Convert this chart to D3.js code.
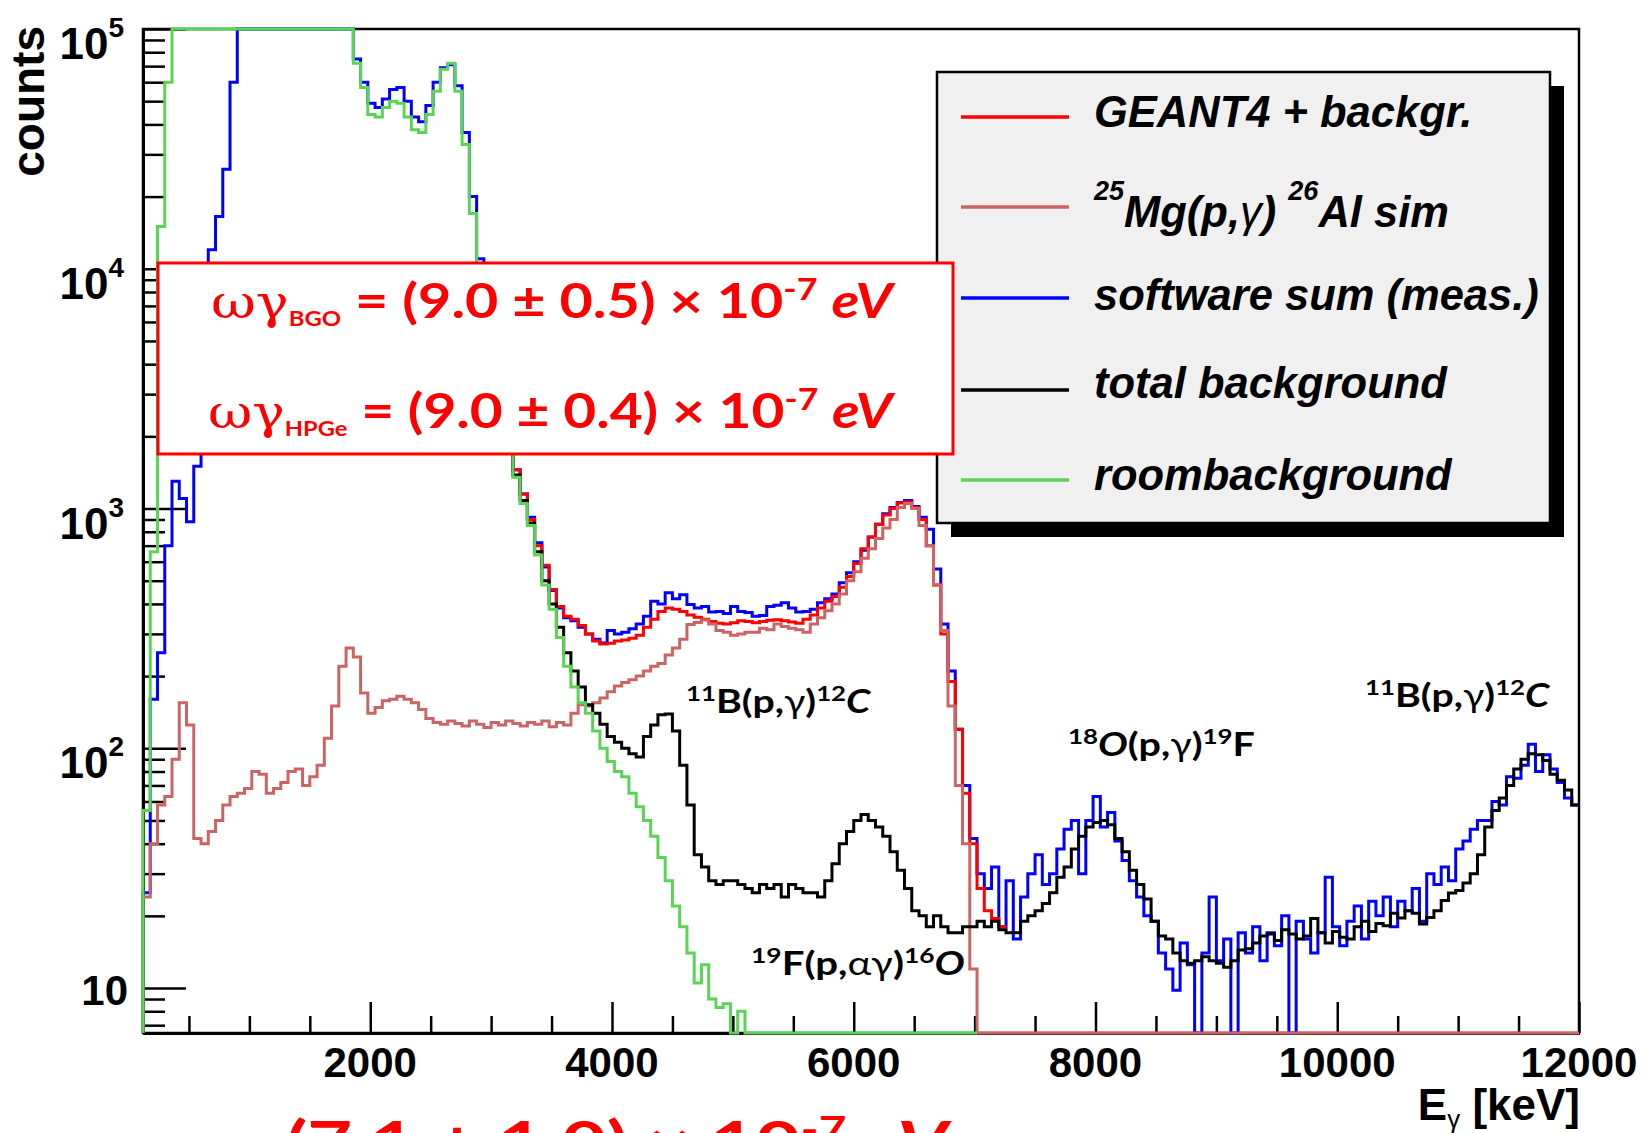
<!DOCTYPE html>
<html><head><meta charset="utf-8">
<script src="https://cdn.jsdelivr.net/npm/d3@7/dist/d3.min.js"></script>
<style>body{margin:0;background:#fff}svg{display:block}text{white-space:pre}</style>
</head><body>
<svg id="chart" width="1646" height="1133"></svg>
<script>
// ---------------- data (histogram bins: start 120 keV, width 60 keV) ----------------
const BIN_START = 120;
const BIN_WIDTH = 60;

const xMajorTicks = [2000, 4000, 6000, 8000, 10000, 12000];
const xTickLabels = ["2000", "4000", "6000", "8000", "10000", "12000"];
const yMajorTicks = [10, 100, 1000, 10000, 100000];
const yTickExponents = ["", "2", "3", "4", "5"];

const legendLabels = ["GEANT4 + backgr.", "25Mg(p,γ)26Al sim", "software sum (meas.)", "total background", "roombackground"];

// software sum (measured), first bin 0
const blueStartBin = 0;
const blueCounts = [25,160,250,700,1300,1100,880,1500,4500,12000,16500,26000,60000,
150000,150000,150000,150000,150000,150000,150000,150000,150000,150000,150000,150000,150000,150000,150000,150000,
75000,60000,49000,47000,51000,56000,57000,50000,43000,41000,48000,60000,69000,71000,58000,37000,20000,11000,
7000,4600,3000,1900,1450,1150,920,720,570,455,385,350,340,320,300,285,275,310,300,305,315,330,355,410,
400,445,420,437,398,385,390,370,372,365,390,372,368,355,358,390,395,405,385,370,372,380,405,420,
440,490,540,600,670,760,860,950,1010,1060,1080,1020,920,820,560,330,210,120,70,42,
30,26,32,18,28,16,24,30,36,27,30,38,46,50,30,50,63,47,54,41,34,28,24,20,19,14,12,9.8,15.4,12.5,
0,14,24,13,16,0,17,14,18,13,17,15,20,0,19,16,14,17,29,18,15,19,22,16,23,20,24,18,23,21,26,19,
30,27,32,28,38,41,46,50,50,60,58,76,75,85,104,80,94,82,72,62,58];

// GEANT4 + background, first bin 47
const redStartBin = 47;
const redCounts = [7000,4600,3000,1900,1450,1150,900,700,580,460,390,355,345,325,300,280,272,274,280,283,288,296,
320,345,372,385,380,372,360,352,345,338,332,330,334,340,338,334,338,342,344,340,336,332,345,360,385,410,
430,470,520,590,680,760,860,940,1000,1055,1065,1010,900,700,480,300,190,120,65,40,26,21,19.5,18];

// 25Mg(p,g)26Al simulation, first bin 0
const pinkStartBin = 0;
const pinkCounts = [24,40,58,63,90,155,125,42,40,45,50,58,63,65,68,80,78,65,68,72,80,82,70,76,85,110,150,220,262,
240,170,140,148,158,160,165,160,155,145,133,128,126,130,127,124,130,126,122,128,125,130,127,124,128,126,130,123,128,
125,140,152,150,155,162,172,182,188,193,200,210,220,226,245,262,285,328,335,343,330,310,305,296,300,305,305,317,
312,330,322,317,312,305,330,350,375,400,440,500,545,620,680,750,830,900,1010,1050,1000,850,700,480,310,150,70,40,12,
0,0,0,0,0,0,0,0,0,0,0,0,0,0,0,0,0,0,0,0,0,0,0,0,0,0,0,0,0,0,0,0,0,0,0,0,0,0,0,0,0,0,
0,0,0,0,0,0,0,0,0,0,0,0,0,0,0,0,0,0,0,0,0,0,0,0,0,0,0,0,0,0,0,0,0,0,0,0,0,0,0,0,0];

// total background, first bin 47
const blackStartBin = 47;
const blackCounts = [6500,4300,2800,1850,1380,1080,870,660,500,400,320,250,210,180,152,140,126,112,106,100,95,92,
112,125,138,139,118,85,58,36,32,28,27,28,28,27,26,25,27,26,27,24,27,26,25,25,24,28,33,40,45,50,53,50,47,43,37,31,
26,21,20,18,20,18,17,17,18,18,19,18,19,17.5,17,17,19,20,21,22.5,25,29,32,38,43,47,49,50,48,42,37,31,27,23.5,19,
16.5,16,14,13,12.7,13,13.5,13,12.7,12.2,13,14.4,14.6,15.4,16.5,16.8,15.8,17.5,16.8,16,16.5,19.5,17,15.4,17.2,16.3,
16,18,19,17.2,18.6,18.2,20.5,19.6,21,20.5,18.5,19.7,21,23.2,24.9,25.5,27.4,30,36,47,55,62,70,82,90,95,94,89,78,73.6,67,58];

// room background, first bin 0
const greenStartBin = 0;
const greenCounts = [55,660,15000,60000,
150000,150000,150000,150000,150000,150000,150000,150000,150000,150000,150000,150000,150000,150000,150000,150000,
150000,150000,150000,150000,150000,150000,150000,150000,150000,
72000,57000,44000,43000,47000,50000,49000,43000,38000,37000,44000,55000,68000,72000,55000,33000,17000,10000,
6500,4200,2700,1800,1350,1050,850,640,480,380,290,220,180,155,140,118,100,88,80,76,65,57,50,43,35,28,22,18,14,
10.5,12.5,9,8.3,8.6,0,8,
0,0,0,0,0,0,0,0,0,0,0,0,0,0,0,0,0,0,0,0,0,0,0,0,0,0,0,0,0,0,0,0];

// ---------------- layout ----------------
const svg = d3.select("#chart");
const plot = {left: 143, right: 1579, top: 29, bottom: 1033};
const x = d3.scaleLinear().domain([BIN_START, 12000]).range([plot.left, plot.right]);
const yMin = Math.pow(10, 0.8125), yMax = 1e5;
const y = d3.scaleLog().domain([yMin, yMax]).range([plot.bottom, plot.top]);
const yc = v => (v <= yMin ? plot.bottom : v >= yMax ? plot.top : y(v));

const C = {red: "#ff0000", pink: "#cc6464", blue: "#0000ff", black: "#000000", green: "#59d454"};

svg.append("rect").attr("width", 1646).attr("height", 1133).attr("fill", "#fff");

// frame
svg.append("rect").attr("x", plot.left).attr("y", plot.top)
  .attr("width", plot.right - plot.left).attr("height", plot.bottom - plot.top)
  .attr("fill", "none").attr("stroke", "#000").attr("stroke-width", 2.5);

// axes
const xMinor = d3.range(500, 12000, 500).filter(v => v % 2000 !== 0);
const yMinor = [];
[1, 10, 100, 1000, 10000].forEach(d => { for (let k = 2; k <= 9; k++) { const v = d * k; if (v >= yMin && v < yMax) yMinor.push(v); } });

function styleAxis(g) {
  g.selectAll("path.domain").attr("stroke", "#000").attr("stroke-width", 3);
  g.selectAll(".tick line").attr("stroke", "#000").attr("stroke-width", 2.5);
  g.selectAll(".tick text").remove();
}
svg.append("g").attr("transform", `translate(0,${plot.bottom})`)
  .call(d3.axisBottom(x).tickValues(xMinor).tickSizeInner(-17).tickSizeOuter(0).tickFormat("")).call(styleAxis);
svg.append("g").attr("transform", `translate(0,${plot.bottom})`)
  .call(d3.axisBottom(x).tickValues(xMajorTicks).tickSizeInner(-31).tickSizeOuter(0).tickFormat("")).call(styleAxis);
svg.append("g").attr("transform", `translate(${plot.left},0)`)
  .call(d3.axisLeft(y).tickValues(yMinor).tickSizeInner(-22).tickSizeOuter(0).tickFormat("")).call(styleAxis);
svg.append("g").attr("transform", `translate(${plot.left},0)`)
  .call(d3.axisLeft(y).tickValues(yMajorTicks).tickSizeInner(-43).tickSizeOuter(0).tickFormat("")).call(styleAxis);

const AX_FONT = "'Liberation Sans', Arial, Helvetica, sans-serif";
// x tick labels
xMajorTicks.forEach((v, i) => {
  svg.append("text").attr("x", x(v)).attr("y", 1077).attr("text-anchor", "middle")
    .attr("font-family", AX_FONT).attr("font-weight", "bold").attr("font-size", 42).text(xTickLabels[i]);
});
// y tick labels
yMajorTicks.forEach((v, i) => {
  const ty = y(v);
  const t = svg.append("text").attr("text-anchor", "end").attr("x", 124)
    .attr("font-family", AX_FONT).attr("font-weight", "bold").attr("font-size", 44);
  if (yTickExponents[i] === "") {
    t.attr("x", 128).attr("y", ty + 17).attr("font-size", 42).text("10");
  } else {
    t.attr("y", ty + 30);
    t.append("tspan").text("10");
    t.append("tspan").attr("font-size", 28).attr("dy", -22).text(yTickExponents[i]);
  }
});
// axis titles
svg.append("text").attr("transform", "translate(44,26) rotate(-90)").attr("text-anchor", "end")
  .attr("font-family", AX_FONT).attr("font-weight", "bold").attr("font-size", 46).text("counts");
{
  const t = svg.append("text").attr("x", 1580).attr("y", 1120).attr("text-anchor", "end")
    .attr("font-family", AX_FONT).attr("font-weight", "bold").attr("font-size", 44);
  t.append("tspan").text("E");
  t.append("tspan").attr("font-size", 26).attr("font-weight", "normal").attr("dy", 8).text("γ");
  t.append("tspan").attr("dy", -8).text(" [keV]");
}

// ---------------- histograms ----------------
const stepLine = d3.line().x(d => x(d[0])).y(d => yc(d[1])).curve(d3.curveStepAfter);
function histPoints(startBin, vals, fromBottom) {
  const pts = [];
  const e0 = BIN_START + startBin * BIN_WIDTH;
  if (fromBottom) pts.push([e0, 0]);
  vals.forEach((v, k) => pts.push([BIN_START + (startBin + k) * BIN_WIDTH, v]));
  pts.push([BIN_START + (startBin + vals.length) * BIN_WIDTH, vals[vals.length - 1]]);
  return pts;
}
const hists = [
  {start: blueStartBin, vals: blueCounts, color: C.blue, fb: true},
  {start: redStartBin, vals: redCounts, color: C.red, fb: false},
  {start: pinkStartBin, vals: pinkCounts, color: C.pink, fb: true},
  {start: blackStartBin, vals: blackCounts, color: C.black, fb: false},
  {start: greenStartBin, vals: greenCounts, color: C.green, fb: true}
];
hists.forEach(h => {
  svg.append("path").attr("d", stepLine(histPoints(h.start, h.vals, h.fb)))
    .attr("fill", "none").attr("stroke", h.color).attr("stroke-width", 3).attr("stroke-linejoin", "miter");
});

// ---------------- rich text helpers ----------------
function rich(parent, parts, base) {
  const t = parent.append("text").attr("x", 0).attr("y", 0)
    .attr("font-family", base.family).attr("font-size", base.size)
    .attr("font-weight", base.weight || "bold").attr("font-style", base.style || "normal")
    .attr("fill", base.fill || "#000");
  let cur = 0;
  parts.forEach(p => {
    const sh = p.shift || 0;
    const ts = t.append("tspan").attr("dy", cur - sh).text(p.t);
    cur = sh;
    if (p.size) ts.attr("font-size", p.size);
    if (p.style) ts.attr("font-style", p.style);
    if (p.weight) ts.attr("font-weight", p.weight);
    if (p.family) ts.attr("font-family", p.family);
  });
  return t;
}
function fitted(parts, base, x0, x1, baseline) {
  const g = svg.append("g");
  const t = rich(g, parts, base);
  const bb = t.node().getBBox();
  const s = (x1 - x0) / bb.width;
  g.attr("transform", `translate(${x0 - bb.x * s},${baseline}) scale(${s},1)`);
  return g;
}

const COMIC = "'Comic Sans MS', Lato, 'Open Sans', sans-serif";
const SERIF = "'DejaVu Serif', 'Liberation Serif', serif";

// ---------------- reaction annotations ----------------
const annSize = 32, supSize = 21, supShift = 12;
function reaction(a, b, d, e, greek, x0, x1, base, italicFirst) {
  return fitted([
    {t: a, size: supSize, shift: supShift},
    {t: b, style: italicFirst ? "italic" : null},
    {t: "(p,"},
    {t: greek, weight: "normal"},
    {t: ")"},
    {t: d, size: supSize, shift: supShift},
    {t: e, style: e === "F" ? null : "italic"}
  ], {family: COMIC, size: annSize}, x0, x1, base);
}
reaction("11", "B", "12", "C", "γ", 686, 872, 713, false);
reaction("19", "F", "16", "O", "αγ", 751, 965, 975, false);
reaction("18", "O", "19", "F", "γ", 1068, 1255, 756, true);
reaction("11", "B", "12", "C", "γ", 1365, 1551, 707, false);

// ---------------- legend ----------------
const L = {x: 937, y: 72, w: 613, h: 451};
svg.append("rect").attr("x", L.x + 14).attr("y", L.y + 14).attr("width", L.w).attr("height", L.h).attr("fill", "#000");
svg.append("rect").attr("x", L.x).attr("y", L.y).attr("width", L.w).attr("height", L.h)
  .attr("fill", "#f0f0f0").attr("stroke", "#000").attr("stroke-width", 2.5);
const legColors = [C.red, C.pink, C.blue, C.black, C.green];
const legLineY = [117, 207, 298, 390, 480];
const legBase = [127, 227, 310, 398, 490];
legColors.forEach((col, i) => {
  svg.append("line").attr("x1", 961).attr("x2", 1069).attr("y1", legLineY[i]).attr("y2", legLineY[i])
    .attr("stroke", col).attr("stroke-width", 3.5);
  const g = svg.append("g").attr("transform", `translate(1094,${legBase[i]})`);
  const base = {family: AX_FONT, size: 43.5, style: "italic"};
  if (i === 1) {
    rich(g, [
      {t: "25", size: 27, shift: 27},
      {t: "Mg(p,"}, {t: "γ", weight: "normal"}, {t: ") "},
      {t: "26", size: 27, shift: 27},
      {t: "Al sim"}
    ], base);
  } else {
    rich(g, [{t: legendLabels[i]}], base);
  }
});

// ---------------- resonance strength box ----------------
svg.append("rect").attr("x", 158).attr("y", 263).attr("width", 795).attr("height", 191)
  .attr("fill", "#fff").attr("stroke", "#ff0000").attr("stroke-width", 3);
const redBase = {family: COMIC, size: 48, fill: "#ff0000"};
fitted([
  {t: "ωγ", family: SERIF, weight: "normal", size: 46},
  {t: "BGO", size: 20, shift: -8},
  {t: " = (9.0 ± 0.5) × 10"},
  {t: "-7", size: 30, shift: 18},
  {t: " "},
  {t: "eV", style: "italic"}
], redBase, 211, 896, 318);
fitted([
  {t: "ωγ", family: SERIF, weight: "normal", size: 46},
  {t: "HPGe", size: 20, shift: -8},
  {t: " = (9.0 ± 0.4) × 10"},
  {t: "-7", size: 30, shift: 18},
  {t: " "},
  {t: "eV", style: "italic"}
], redBase, 208, 896, 428);
// partially visible line at the bottom edge (cut off in the original too)
fitted([
  {t: "(7.1 ± 1.0) × 10"},
  {t: "-7", size: 37, shift: 22},
  {t: " "},
  {t: "eV", style: "italic"}
], {family: COMIC, size: 60, fill: "#ff0000"}, 286, 953, 1164);
</script>
</body></html>
